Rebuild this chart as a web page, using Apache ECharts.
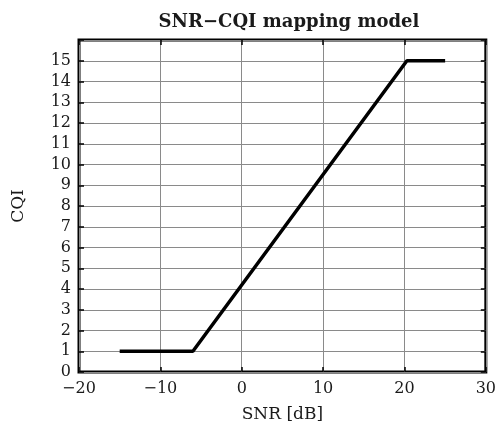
<!DOCTYPE html>
<html>
<head>
<meta charset="utf-8">
<script src="https://cdn.jsdelivr.net/npm/echarts@6/dist/echarts.min.js"></script>
<style>
  html, body { margin: 0; padding: 0; background: #fff; }
  #chart { width: 499px; height: 428px; }
</style>
</head>
<body>
<div id="chart"></div>
<script>
  // SNR-CQI mapping curve (piecewise linear)
  var snrPoints = [-15, -6, 20.3, 25];
  var cqiPoints = [1, 1, 15, 15];
  var xTicks = [-20, -10, 0, 10, 20, 30];
  var yMax = 16;

  var lineData = snrPoints.map(function (s, i) { return [s, cqiPoints[i]]; });
  var serif = '"DejaVu Serif", "Liberation Serif", serif';
  var minus = function (v) { return String(v).replace('-', '\u2212'); };
  var tick = { show: true, inside: true, length: 5, lineStyle: { color: '#000', width: 1.5 } };

  var chart = echarts.init(document.getElementById('chart'));
  chart.setOption({
    animation: false,
    title: {
      text: 'SNR\u2212CQI mapping model',
      left: 284, top: 8, textAlign: 'center',
      textStyle: { fontFamily: serif, fontSize: 18, fontWeight: 'bold', color: '#1a1a1a' }
    },
    grid: {
      left: 79, right: 10, top: 40, bottom: 56,
      show: true, borderColor: '#000', borderWidth: 3, backgroundColor: 'transparent'
    },
    xAxis: [{
      type: 'value', min: xTicks[0], max: xTicks[xTicks.length - 1], interval: 10,
      name: 'SNR [dB]', nameLocation: 'middle', nameGap: 34,
      nameTextStyle: { fontFamily: serif, fontSize: 17, color: '#1a1a1a' },
      axisLine: { show: false, onZero: false },
      axisTick: tick,
      axisLabel: { formatter: minus, fontFamily: serif, fontSize: 16, color: '#1a1a1a', margin: 9 },
      splitLine: { show: true, lineStyle: { color: '#8a8a8a', width: 1 } }
    }, {
      type: 'value', position: 'top', min: xTicks[0], max: xTicks[xTicks.length - 1], interval: 10,
      axisLine: { show: false, onZero: false },
      axisTick: tick,
      axisLabel: { show: false }, splitLine: { show: false }
    }],
    yAxis: [{
      type: 'value', min: 0, max: yMax, interval: 1,
      name: 'CQI', nameLocation: 'middle', nameGap: 52,
      nameTextStyle: { fontFamily: serif, fontSize: 17, color: '#1a1a1a' },
      axisLine: { show: false, onZero: false },
      axisTick: tick,
      axisLabel: {
        fontFamily: serif, fontSize: 16, color: '#1a1a1a', margin: 8,
        formatter: function (v) { return v === yMax ? '' : v; }
      },
      splitLine: { show: true, lineStyle: { color: '#8a8a8a', width: 1 } }
    }, {
      type: 'value', position: 'right', min: 0, max: yMax, interval: 1,
      axisLine: { show: false, onZero: false },
      axisTick: tick,
      axisLabel: { show: false }, splitLine: { show: false }
    }],
    series: [{
      type: 'line', data: lineData, showSymbol: false,
      lineStyle: { color: '#000', width: 3.5 }
    }]
  });
</script>
</body>
</html>
